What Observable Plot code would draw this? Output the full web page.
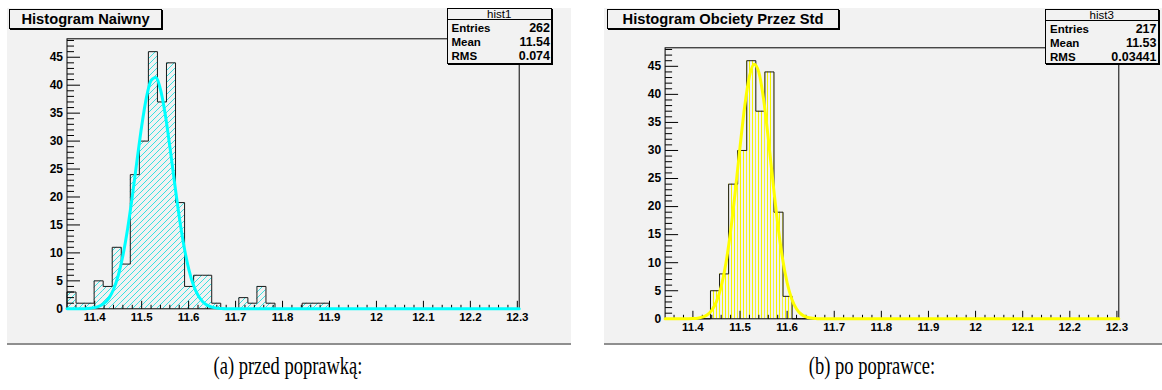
<!DOCTYPE html>
<html><head><meta charset="utf-8">
<script src="https://cdn.jsdelivr.net/npm/d3@7"></script>
<script src="https://cdn.jsdelivr.net/npm/@observablehq/plot@0.6"></script>
<style>
html,body{margin:0;padding:0;background:#fff;width:1162px;height:390px;overflow:hidden;}
body{position:relative;font-family:"Liberation Sans",Arial,sans-serif;}
.panel{position:absolute;background:#f2f2f2;border-bottom:2px solid #8f8f8f;box-sizing:content-box;}
.panel svg{position:absolute;left:0;top:0;}
.tbox{position:absolute;box-sizing:border-box;border:1px solid #000;box-shadow:1px 1px 0 #000;background:#f2f2f2;font-weight:bold;font-size:14.7px;text-align:center;white-space:nowrap;color:#000;}
.sbox{position:absolute;box-sizing:border-box;border:1px solid #000;box-shadow:1px 1px 0 #000;background:#f2f2f2;color:#000;}
.sbox .hd{position:absolute;left:0;right:0;top:0;height:10px;line-height:11px;font-size:11.5px;text-align:center;border-bottom:1px solid #000;}
.sbox .row{position:absolute;left:4px;right:1px;height:14px;line-height:14px;font-weight:bold;font-size:11.5px;display:flex;justify-content:space-between;}
.sbox .row .v{font-size:12.5px;}
.cap{position:absolute;font-family:"Liberation Serif","DejaVu Serif",serif;font-size:25px;line-height:28px;white-space:nowrap;transform:translateX(-50%) scaleX(0.74);color:#000;}
</style></head>
<body>
<div id="root"></div>
<script>
// ---- data ----
const xMin = 11.341, xMax = 12.304, nBins = 50;
const yMax = 48.3;
const countsNaiwny = [3,1,1,5,4,11,8,24,30,46,37,44,19,4,6,6,1,0,0,2,1,4,1,0,0,0,1,1,1,0,0,0,0,0,0,0,0,0,0,0,0,0,0,0,0,0,0,0,0,0];
const countsObciety = [0,0,0,0,0,5,8,24,30,46,37,44,19,4,0,0,0,0,0,0,0,0,0,0,0,0,0,0,0,0,0,0,0,0,0,0,0,0,0,0,0,0,0,0,0,0,0,0,0,0];
const fitX = [11.38,11.39,11.40,11.41,11.42,11.43,11.44,11.45,11.46,11.47,11.48,11.49,11.50,11.51,11.52,11.53,11.54,11.55,11.56,11.57,11.58,11.59,11.60,11.61,11.62,11.63,11.64,11.65,11.66,11.67,11.68];
const fitNaiwny = [0.03,0.09,0.21,0.46,0.96,1.88,3.45,5.91,9.49,14.26,20.08,26.46,32.66,37.74,40.84,41.38,39.25,34.88,29.01,22.60,16.48,11.25,7.20,4.31,2.42,1.27,0.62,0.29,0.12,0.05,0.02];
const fitObciety = [0.00,0.01,0.04,0.11,0.29,0.69,1.52,3.07,5.73,9.86,15.61,22.77,30.60,37.88,43.20,45.38,43.92,39.15,32.15,24.32,16.94,10.88,6.43,3.50,1.76,0.81,0.35,0.14,0.05,0.01,0.00];
const xMajorTicks = [11.4,11.5,11.6,11.7,11.8,11.9,12,12.1,12.2,12.3];
const xMinorTicks = [11.36,11.38,11.42,11.44,11.46,11.48,11.52,11.54,11.56,11.58,11.62,11.64,11.66,11.68,11.72,11.74,11.76,11.78,11.82,11.84,11.86,11.88,11.92,11.94,11.96,11.98,12.02,12.04,12.06,12.08,12.12,12.14,12.16,12.18,12.22,12.24,12.26,12.28];
const yMajorTicks = [0,5,10,15,20,25,30,35,40,45];
const yMinorTicks = [1,2,3,4,6,7,8,9,11,12,13,14,16,17,18,19,21,22,23,24,26,27,28,29,31,32,33,34,36,37,38,39,41,42,43,44,46,47,48];
const titles = ["Histogram Naiwny", "Histogram Obciety Przez Std"];
const statNames = ["hist1", "hist3"];
const statLabels = ["Entries", "Mean", "RMS"];
const statValues = [["262","11.54","0.074"], ["217","11.53","0.03441"]];
const captions = ["(a) przed poprawką:", "(b) po poprawce:"];

// ---- drawing ----
const binW = (xMax - xMin) / nBins;
const tickRight = len => ({draw(c){ c.moveTo(0,0); c.lineTo(len,0); }});
const tickUp = len => ({draw(c){ c.moveTo(0,0); c.lineTo(0,-len); }});

function makePlot(cfg) {
  const bins = cfg.counts.map((c, i) => ({x0: xMin + i*binW, x1: xMin + (i+1)*binW, c}));
  const outline = [{x: xMin, y: 0}, ...bins.map(b => ({x: b.x0, y: b.c})), {x: xMax, y: 0}];
  const fit = [{x: xMin, y: 0}, ...fitX.map((x, i) => ({x, y: cfg.fit[i]})), {x: xMax, y: 0}];
  const svg = Plot.plot({
    width: cfg.width, height: cfg.height,
    marginLeft: cfg.ml, marginRight: cfg.mr, marginTop: cfg.mt, marginBottom: cfg.mb,
    style: {background: "transparent", fontFamily: "'Liberation Sans', Arial, sans-serif", color: "#000", overflow: "visible"},
    x: {domain: [xMin, xMax], axis: null},
    y: {domain: [0, yMax], axis: null},
    marks: [
      Plot.rectY(bins.filter(b => b.c > 0), {x1: "x0", x2: "x1", y: "c", fill: `url(#${cfg.pid})`}),
      Plot.line(outline, {x: "x", y: "y", curve: "step-after", stroke: "#1a1a1a", strokeWidth: 1}),
      Plot.frame({stroke: "#000", strokeWidth: 1}),
      Plot.dot(yMajorTicks, {y: d => d, frameAnchor: "left", symbol: tickRight(13), stroke: "#000", fill: "none", strokeWidth: 1}),
      Plot.dot(yMinorTicks, {y: d => d, frameAnchor: "left", symbol: tickRight(7), stroke: "#000", fill: "none", strokeWidth: 1}),
      Plot.dot(xMajorTicks, {x: d => d, frameAnchor: "bottom", symbol: tickUp(8), stroke: "#000", fill: "none", strokeWidth: 1}),
      Plot.dot(xMinorTicks, {x: d => d, frameAnchor: "bottom", symbol: tickUp(4), stroke: "#000", fill: "none", strokeWidth: 1}),
      Plot.line(fit, {x: "x", y: "y", curve: "monotone-x", stroke: cfg.color, strokeWidth: 3}),
      Plot.text(yMajorTicks, {y: d => d, frameAnchor: "left", text: d => String(d), textAnchor: "end", dx: -4, fontSize: 12, fontWeight: "bold", fill: "#000"}),
      Plot.text(xMajorTicks, {x: d => d, frameAnchor: "bottom", text: d => String(d), lineAnchor: "top", dy: 4, fontSize: 11.5, fontWeight: "bold", fill: "#000"})
    ]
  });
  const ns = "http://www.w3.org/2000/svg";
  const defs = document.createElementNS(ns, "defs");
  defs.innerHTML = cfg.patternDef;
  svg.insertBefore(defs, svg.firstChild);
  return svg;
}

const root = document.getElementById("root");
const panels = [
  {left: 7, top: 8, width: 564, height: 335, ml: 59.5, mr: 52.3, mt: 30.3, mb: 34.7,
   counts: countsNaiwny, fit: fitNaiwny, color: "#00ffff", pid: "hatchL",
   patternDef: '<pattern id="hatchL" patternUnits="userSpaceOnUse" width="6" height="6"><path d="M0,6 L6,0 M-1,1 L1,-1 M5,7 L7,5" stroke="#22dede" stroke-width="0.9"/></pattern>',
   tbox: {left: 9, top: 9, width: 153, height: 20}, sbox: {left: 446.5, top: 8, width: 105.5, height: 56}},
  {left: 604, top: 8, width: 558, height: 335, ml: 60.6, mr: 43.7, mt: 39.3, mb: 24.7,
   counts: countsObciety, fit: fitObciety, color: "#ffff00", pid: "hatchR",
   patternDef: '<pattern id="hatchR" patternUnits="userSpaceOnUse" width="3" height="6"><path d="M1.5,0 L1.5,6" stroke="#f4f400" stroke-width="1"/></pattern>',
   tbox: {left: 607, top: 9, width: 232, height: 20}, sbox: {left: 1045, top: 8.5, width: 113.5, height: 55.5}}
];
const capCenters = [288, 872];

panels.forEach((p, k) => {
  const div = document.createElement("div");
  div.className = "panel";
  Object.assign(div.style, {left: p.left + "px", top: p.top + "px", width: p.width + "px", height: p.height + "px"});
  div.appendChild(makePlot(p));
  root.appendChild(div);

  const t = document.createElement("div");
  t.className = "tbox";
  Object.assign(t.style, {left: p.tbox.left + "px", top: p.tbox.top + "px", width: p.tbox.width + "px", height: p.tbox.height + "px", lineHeight: (p.tbox.height - 2) + "px"});
  t.textContent = titles[k];
  root.appendChild(t);

  const s = document.createElement("div");
  s.className = "sbox";
  Object.assign(s.style, {left: p.sbox.left + "px", top: p.sbox.top + "px", width: p.sbox.width + "px", height: p.sbox.height + "px"});
  const hd = document.createElement("div");
  hd.className = "hd"; hd.textContent = statNames[k];
  s.appendChild(hd);
  statLabels.forEach((lab, j) => {
    const r = document.createElement("div");
    r.className = "row";
    r.style.top = (12 + j * 14.2) + "px";
    const a = document.createElement("span"); a.textContent = lab;
    const b = document.createElement("span"); b.className = "v"; b.textContent = statValues[k][j];
    r.appendChild(a); r.appendChild(b);
    s.appendChild(r);
  });
  root.appendChild(s);

  const c = document.createElement("div");
  c.className = "cap";
  c.style.left = capCenters[k] + "px";
  c.style.top = "352px";
  c.textContent = captions[k];
  root.appendChild(c);
});
</script>
</body></html>
